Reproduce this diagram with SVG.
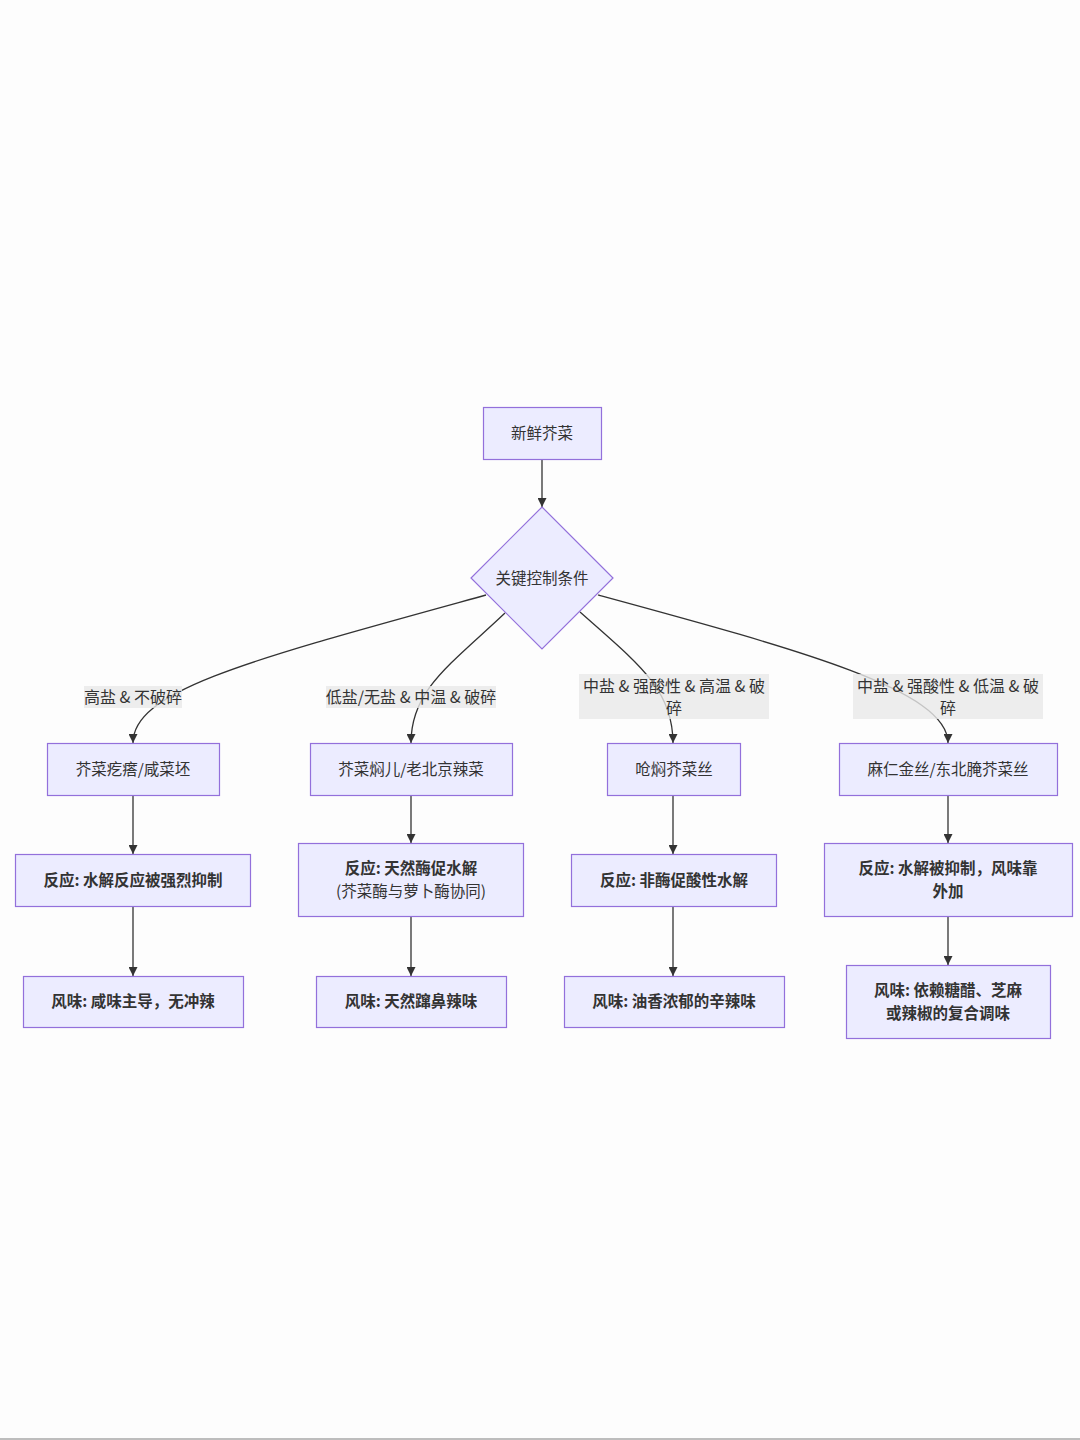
<svg xmlns="http://www.w3.org/2000/svg" width="1080" height="1440" viewBox="0 0 1080 1440">
<style>
text{font-family:"Noto Sans CJK SC","Liberation Sans",sans-serif;font-size:15.5px;fill:#333;text-anchor:middle}
.l{font-size:16px}
.b{font-weight:bold}
.n{fill:#ECECFF;stroke:#9370DB;stroke-width:1.2}
.e{fill:none;stroke:#333;stroke-width:1.3}
.lb{fill:#e8e8e8;opacity:0.8}
</style>
<defs>
<marker id="ar" viewBox="0 0 10 10" refX="10" refY="5" markerWidth="9" markerHeight="9" markerUnits="userSpaceOnUse" orient="auto">
<path d="M0,0 L10,5 L0,10 z" fill="#333"/>
</marker>
</defs>
<rect width="1080" height="1440" fill="#fdfdfd"/>
<rect x="0" y="1438" width="1080" height="2" fill="#bdbdbd"/>
<g id="connectors">
<path class="e" d="M542,459 L542,507" marker-end="url(#ar)"/>
<path class="e" d="M486,595 C250,660 133,690 133,743" marker-end="url(#ar)"/>
<path class="e" d="M505,613 C450,665 411,690 411,743" marker-end="url(#ar)"/>
<path class="e" d="M580,612 C640,665 673,690 673,743" marker-end="url(#ar)"/>
<path class="e" d="M598,595 C800,650 948,690 948,743" marker-end="url(#ar)"/>
<path class="e" d="M133,795 L133,854" marker-end="url(#ar)"/>
<path class="e" d="M411,795 L411,843" marker-end="url(#ar)"/>
<path class="e" d="M673,795 L673,854" marker-end="url(#ar)"/>
<path class="e" d="M948,795 L948,843" marker-end="url(#ar)"/>
<path class="e" d="M133,906 L133,976" marker-end="url(#ar)"/>
<path class="e" d="M411,916 L411,976" marker-end="url(#ar)"/>
<path class="e" d="M673,906 L673,976" marker-end="url(#ar)"/>
<path class="e" d="M948,916 L948,965" marker-end="url(#ar)"/>
</g>
<g id="edge-labels">
<rect class="lb" x="84" y="686" width="98" height="22"/>
<text class="l" x="133" y="703">高盐 &amp; 不破碎</text>
<rect class="lb" x="326" y="686" width="170" height="22"/>
<text class="l" x="411" y="703">低盐/无盐 &amp; 中温 &amp; 破碎</text>
<rect class="lb" x="579" y="674" width="190" height="45"/>
<text class="l" x="674" y="692">中盐 &amp; 强酸性 &amp; 高温 &amp; 破</text>
<text class="l" x="674" y="714">碎</text>
<rect class="lb" x="853" y="674" width="190" height="45"/>
<text class="l" x="948" y="692">中盐 &amp; 强酸性 &amp; 低温 &amp; 破</text>
<text class="l" x="948" y="714">碎</text>
</g>
<g id="start">
<rect class="n" x="483.5" y="407.5" width="118" height="52"/>
<text x="542" y="439">新鲜芥菜</text>
</g>
<g id="decision">
<polygon class="n" points="542,507 613,578 542,649 471,578"/>
<text x="542" y="584">关键控制条件</text>
</g>
<g id="a1">
<rect class="n" x="47.5" y="743.5" width="172" height="52"/>
<text x="133" y="775">芥菜疙瘩/咸菜坯</text>
</g>
<g id="b1">
<rect class="n" x="310.5" y="743.5" width="202" height="52"/>
<text x="411" y="775">芥菜焖儿/老北京辣菜</text>
</g>
<g id="c1">
<rect class="n" x="607.5" y="743.5" width="133" height="52"/>
<text x="674" y="775">呛焖芥菜丝</text>
</g>
<g id="d1">
<rect class="n" x="839.5" y="743.5" width="218" height="52"/>
<text x="948" y="775">麻仁金丝/东北腌芥菜丝</text>
</g>
<g id="a2">
<rect class="n" x="15.5" y="854.5" width="235" height="52"/>
<text class="b" x="133" y="886">反应: 水解反应被强烈抑制</text>
</g>
<g id="b2">
<rect class="n" x="298.5" y="843.5" width="225" height="73"/>
<text class="b" x="411" y="874">反应: 天然酶促水解</text>
<text x="411" y="897">(芥菜酶与萝卜酶协同)</text>
</g>
<g id="c2">
<rect class="n" x="571.5" y="854.5" width="205" height="52"/>
<text class="b" x="674" y="886">反应: 非酶促酸性水解</text>
</g>
<g id="d2">
<rect class="n" x="824.5" y="843.5" width="248" height="73"/>
<text class="b" x="948" y="874">反应: 水解被抑制，风味靠</text>
<text class="b" x="948" y="897">外加</text>
</g>
<g id="a3">
<rect class="n" x="23.5" y="976.5" width="220" height="51"/>
<text class="b" x="133" y="1007">风味: 咸味主导，无冲辣</text>
</g>
<g id="b3">
<rect class="n" x="316.5" y="976.5" width="190" height="51"/>
<text class="b" x="411" y="1007">风味: 天然蹿鼻辣味</text>
</g>
<g id="c3">
<rect class="n" x="564.5" y="976.5" width="220" height="51"/>
<text class="b" x="674" y="1007">风味: 油香浓郁的辛辣味</text>
</g>
<g id="d3">
<rect class="n" x="846.5" y="965.5" width="204" height="73"/>
<text class="b" x="948" y="996">风味: 依赖糖醋、芝麻</text>
<text class="b" x="948" y="1019">或辣椒的复合调味</text>
</g>
</svg>
